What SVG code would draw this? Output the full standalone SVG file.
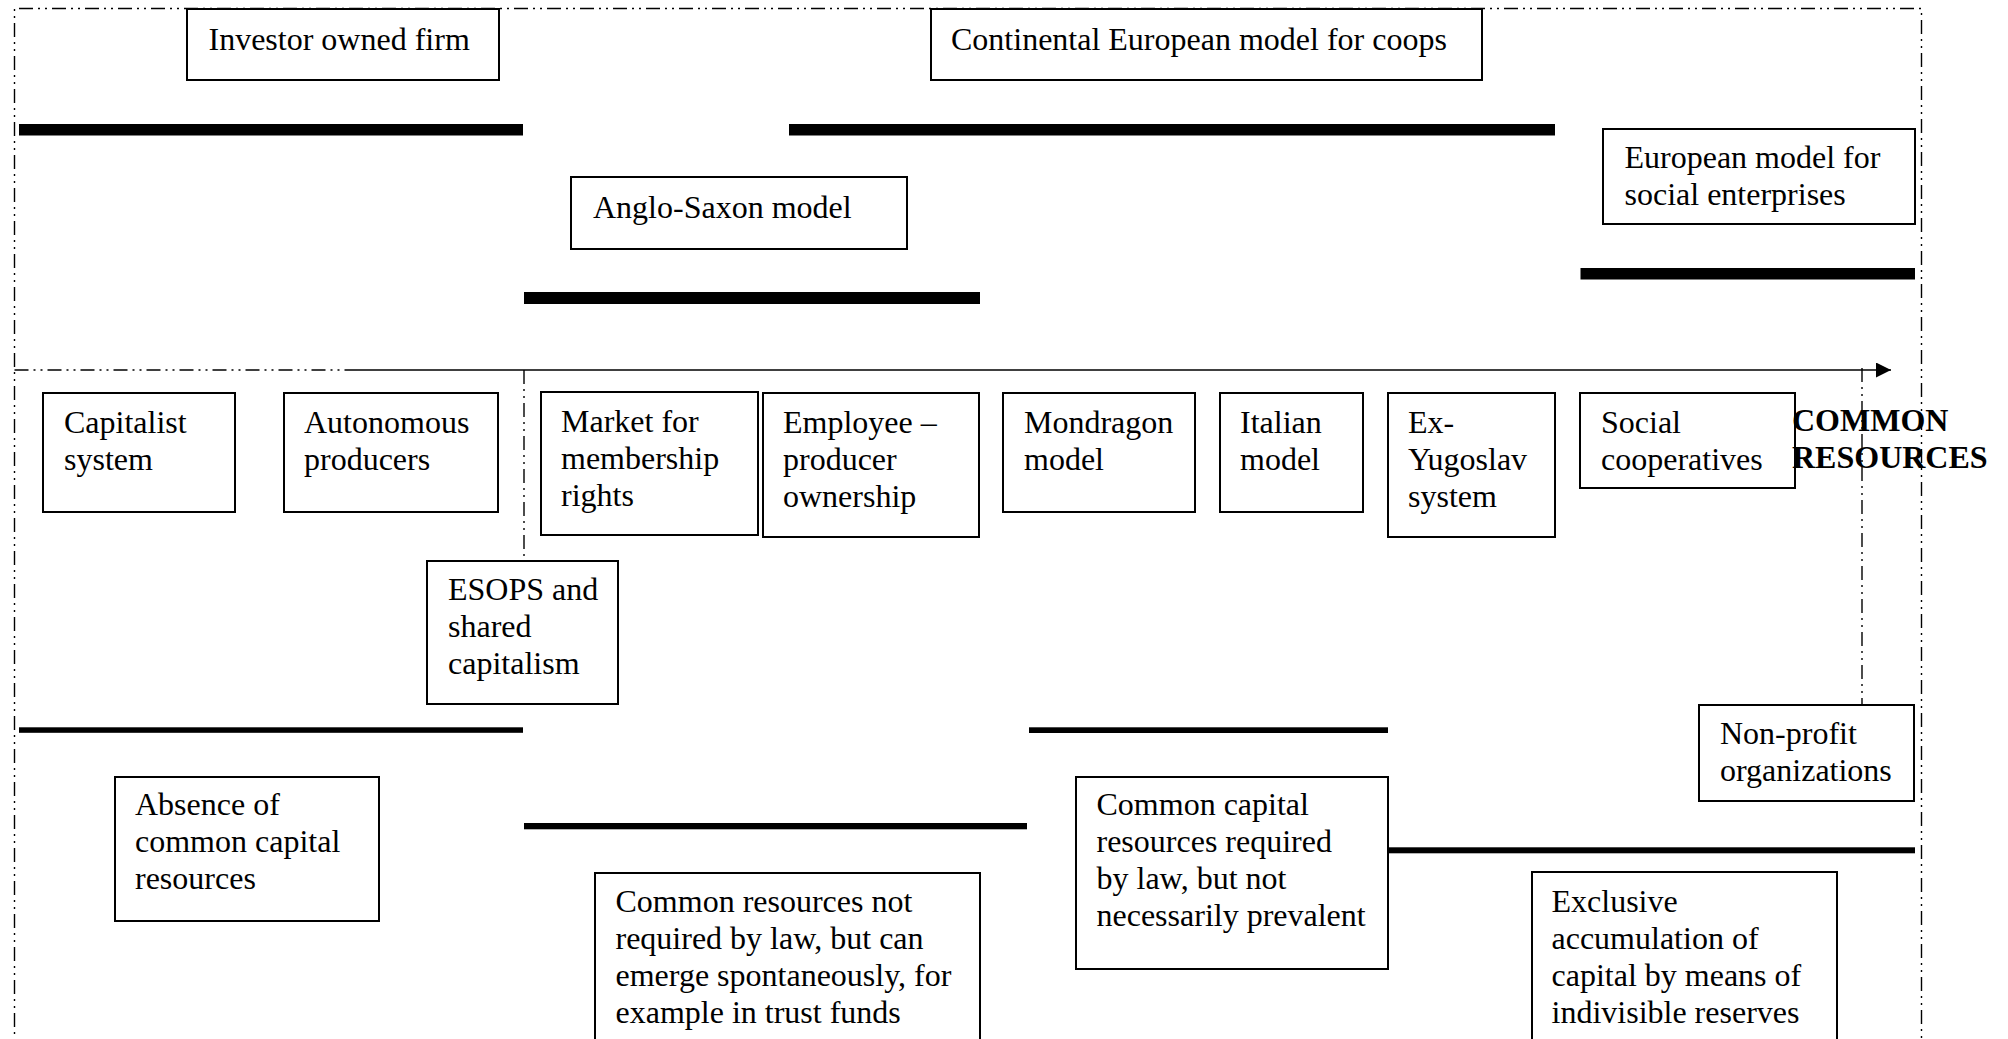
<svg xmlns="http://www.w3.org/2000/svg" width="2008" height="1039" viewBox="0 0 2008 1039">
<style>
.box{fill:#fff;stroke:#000;stroke-width:2}
.t{font-family:"Liberation Serif","Times New Roman",serif;font-size:32px;fill:#000}
.b{font-weight:bold}
.dd{fill:none;stroke:#000;stroke-width:1.4;stroke-dasharray:14 5 2 5 2 5}
.bar{fill:#000}
</style>
<defs>
<marker id="arr" markerWidth="16" markerHeight="16" refX="15" refY="7.5" orient="auto" markerUnits="userSpaceOnUse">
<path d="M0,0 L15,7.5 L0,15 Z" fill="#000"/>
</marker>
</defs>
<rect width="2008" height="1039" fill="#fff"/>
<g id="frame">
<path class="dd" d="M14.5,1060 L14.5,8.5 L1921.5,8.5 L1921.5,1060"/>
</g>
<g id="bars">
<rect class="bar" x="19" y="124" width="504" height="11.5"/>
<rect class="bar" x="789" y="124" width="766" height="11.5"/>
<rect class="bar" x="524" y="292" width="456" height="12"/>
<rect class="bar" x="1580.5" y="268" width="334.5" height="11.5"/>
<rect class="bar" x="19" y="727.3" width="504" height="5.5"/>
<rect class="bar" x="524" y="823" width="503" height="6.3"/>
<rect class="bar" x="1029" y="727.3" width="359" height="5.7"/>
<rect class="bar" x="1388" y="847.3" width="527" height="6"/>
</g>
<g id="connectors">
<line class="dd" x1="14.5" y1="370" x2="357" y2="370"/>
<line x1="357" y1="370" x2="1891" y2="370" stroke="#000" stroke-width="1.6" marker-end="url(#arr)"/>
<line class="dd" x1="524" y1="370" x2="524" y2="561"/>
<line class="dd" x1="1862" y1="368" x2="1862" y2="705"/>
</g>
<g id="investor"><rect class="box" x="187" y="9" width="312" height="71"/><text class="t" x="208.5" y="50">Investor owned firm</text></g>
<g id="continental"><rect class="box" x="931" y="9" width="551" height="71"/><text class="t" x="951" y="50">Continental European model for coops</text></g>
<g id="anglo"><rect class="box" x="571" y="177" width="336" height="72"/><text class="t" x="593" y="218">Anglo-Saxon model</text></g>
<g id="european"><rect class="box" x="1603" y="129" width="312" height="95"/><text class="t" x="1624.5" y="168">European model for</text><text class="t" x="1624.5" y="204.5">social enterprises</text></g>
<g id="capitalist"><rect class="box" x="43" y="393" width="192" height="119"/><text class="t" x="64" y="432.5">Capitalist</text><text class="t" x="64" y="469.5">system</text></g>
<g id="autonomous"><rect class="box" x="284" y="393" width="214" height="119"/><text class="t" x="304" y="432.5">Autonomous</text><text class="t" x="304" y="469.5">producers</text></g>
<g id="market"><rect class="box" x="541" y="392" width="217" height="143"/><text class="t" x="561" y="431.5">Market for</text><text class="t" x="561" y="468.5">membership</text><text class="t" x="561" y="505.5">rights</text></g>
<g id="employee"><rect class="box" x="763" y="393" width="216" height="144"/><text class="t" x="783" y="432.5">Employee –</text><text class="t" x="783" y="469.5">producer</text><text class="t" x="783" y="506.5">ownership</text></g>
<g id="esops"><rect class="box" x="427" y="561" width="191" height="143"/><text class="t" x="448" y="600">ESOPS and</text><text class="t" x="448" y="637">shared</text><text class="t" x="448" y="674">capitalism</text></g>
<g id="mondragon"><rect class="box" x="1003" y="393" width="192" height="119"/><text class="t" x="1024" y="432.5">Mondragon</text><text class="t" x="1024" y="469.5">model</text></g>
<g id="italian"><rect class="box" x="1220" y="393" width="143" height="119"/><text class="t" x="1240" y="432.5">Italian</text><text class="t" x="1240" y="469.5">model</text></g>
<g id="yugoslav"><rect class="box" x="1388" y="393" width="167" height="144"/><text class="t" x="1408" y="432.5">Ex-</text><text class="t" x="1408" y="469.5">Yugoslav</text><text class="t" x="1408" y="506.5">system</text></g>
<g id="social"><rect class="box" x="1580" y="393" width="215" height="95"/><text class="t" x="1601" y="432.5">Social</text><text class="t" x="1601" y="469.5">cooperatives</text></g>
<g id="common"><text class="t b" x="1792" y="430.5">COMMON</text><text class="t b" x="1792" y="467.5">RESOURCES</text></g>
<g id="nonprofit"><rect class="box" x="1699" y="705" width="215" height="96"/><text class="t" x="1720" y="744">Non-profit</text><text class="t" x="1720" y="781">organizations</text></g>
<g id="absence"><rect class="box" x="115" y="777" width="264" height="144"/><text class="t" x="135" y="815">Absence of</text><text class="t" x="135" y="852">common capital</text><text class="t" x="135" y="889">resources</text></g>
<g id="notrequired"><rect class="box" x="595" y="873" width="385" height="180"/><text class="t" x="615.5" y="911.5">Common resources not</text><text class="t" x="615.5" y="948.5">required by law, but can</text><text class="t" x="615.5" y="985.5">emerge spontaneously, for</text><text class="t" x="615.5" y="1022.5">example in trust funds</text></g>
<g id="required"><rect class="box" x="1076" y="777" width="312" height="192"/><text class="t" x="1096.5" y="815">Common capital</text><text class="t" x="1096.5" y="852">resources required</text><text class="t" x="1096.5" y="889">by law, but not</text><text class="t" x="1096.5" y="926">necessarily prevalent</text></g>
<g id="exclusive"><rect class="box" x="1532" y="872" width="305" height="180"/><text class="t" x="1551.5" y="911.5">Exclusive</text><text class="t" x="1551.5" y="948.5">accumulation of</text><text class="t" x="1551.5" y="985.5">capital by means of</text><text class="t" x="1551.5" y="1022.5">indivisible reserves</text></g>
</svg>
